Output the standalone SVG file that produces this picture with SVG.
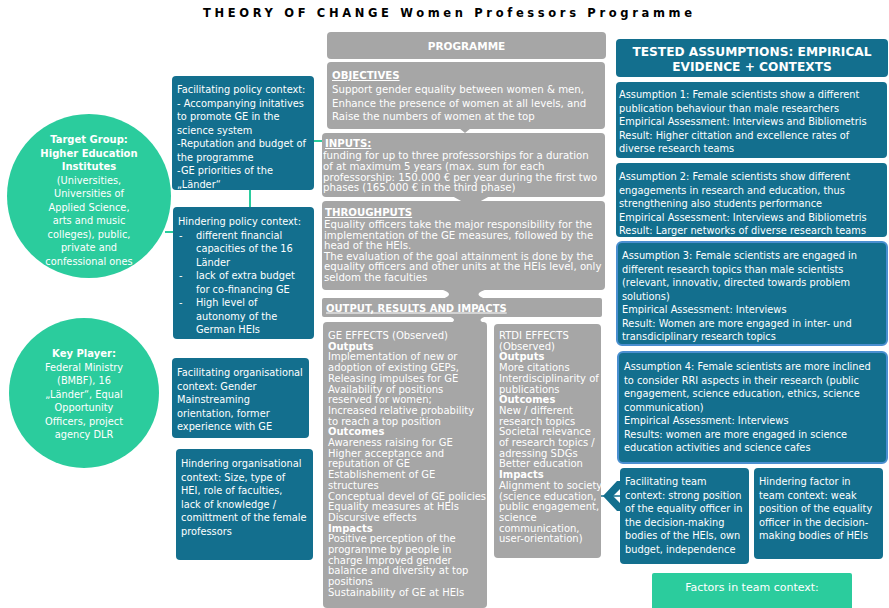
<svg xmlns="http://www.w3.org/2000/svg" width="889" height="608" viewBox="0 0 889 608">
<defs>
<style>
text{font-family:"DejaVu Sans",Verdana,sans-serif;fill:#fff;font-size:9.8px}
.m{font-size:10.2px}
.m2{font-size:10px}
.b{font-weight:bold}
.u{text-decoration:underline}
.teal{fill:#136f8e}
.green{fill:#2bcc9d}
.gray{fill:#a6a6a6}
.outl{stroke:#4a8fd0;stroke-width:2}
.con{stroke:#2bcc9d;stroke-width:2;fill:none}
</style>
<marker id="ah" viewBox="0 0 10 10" refX="9" refY="5" markerWidth="4" markerHeight="4" orient="auto">
<path d="M0,0L10,5L0,10z" fill="#2bcc9d"/>
</marker>
</defs>
<rect width="889" height="608" fill="#fff"/>
<text x="203" y="17" class="b" style="font-size:11.5px;letter-spacing:3.65px;fill:#000">THEORY OF CHANGE Women Professors Programme</text>

<g id="connectors">
<line class="con" x1="165" y1="232" x2="174" y2="232"/>
<line class="con" x1="250" y1="190" x2="250" y2="208"/>
<line class="con" x1="313" y1="141" x2="333" y2="141" marker-end="url(#ah)"/>
<line x1="600" y1="496" x2="620" y2="496" stroke="#136f8e" stroke-width="1.5"/>
<polygon class="teal" points="603,496 617,481 622,481 622,487 613,496 622,505 622,511 617,511"/>
</g>

<g id="target-group">
<circle cx="89" cy="196" r="82" class="green"/>
<text text-anchor="middle" class="b" style="font-size:10px"><tspan x="89" y="143">Target Group:</tspan><tspan x="89" y="156.5">Higher Education</tspan><tspan x="89" y="170">Institutes</tspan></text>
<text text-anchor="middle"><tspan x="89" y="183.5">(Universities,</tspan><tspan x="89" y="197">Universities of</tspan><tspan x="89" y="210.5">Applied Science,</tspan><tspan x="89" y="224">arts and music</tspan><tspan x="89" y="237.5">colleges), public,</tspan><tspan x="89" y="251">private and</tspan><tspan x="89" y="264.5">confessional ones</tspan></text>
</g>

<g id="key-player">
<circle cx="84" cy="393" r="75" class="green"/>
<text text-anchor="middle"><tspan x="84" y="357" class="b" style="font-size:10px">Key Player:</tspan><tspan x="84" y="370.5">Federal Ministry</tspan><tspan x="84" y="384">(BMBF), 16</tspan><tspan x="84" y="397.5">„Länder“,  Equal</tspan><tspan x="84" y="411">Opportunity</tspan><tspan x="84" y="424.5">Officers, project</tspan><tspan x="84" y="438">agency DLR</tspan></text>
</g>

<g id="fac-policy">
<rect x="172" y="76" width="142" height="114" rx="4" class="teal"/>
<text><tspan x="177" y="93">Facilitating policy context:</tspan><tspan x="177" y="106.5">- Accompanying initatives</tspan><tspan x="177" y="120">to promote GE in the</tspan><tspan x="177" y="133.5">science system</tspan><tspan x="177" y="147">-Reputation and budget of</tspan><tspan x="177" y="160.5">the programme</tspan><tspan x="177" y="174">-GE priorities of the</tspan><tspan x="177" y="187.5">„Länder“</tspan></text>
</g>

<g id="hin-policy">
<rect x="173" y="207" width="141" height="132" rx="4" class="teal"/>
<text><tspan x="178" y="225">Hindering policy context:</tspan><tspan x="179" y="238.5">-</tspan><tspan x="196" y="238.5">different financial</tspan><tspan x="196" y="252">capacities of the 16</tspan><tspan x="196" y="265.5">Länder</tspan><tspan x="179" y="279">-</tspan><tspan x="196" y="279">lack of extra budget</tspan><tspan x="196" y="292.5">for co-financing GE</tspan><tspan x="179" y="306">-</tspan><tspan x="196" y="306">High level of</tspan><tspan x="196" y="319.5">autonomy of the</tspan><tspan x="196" y="333">German HEIs</tspan></text>
</g>

<g id="fac-org">
<rect x="172" y="358" width="137" height="80" rx="4" class="teal"/>
<text><tspan x="177" y="376">Facilitating organisational</tspan><tspan x="177" y="389.5">context: Gender</tspan><tspan x="177" y="403">Mainstreaming</tspan><tspan x="177" y="416.5">orientation, former</tspan><tspan x="177" y="430">experience with GE</tspan></text>
</g>

<g id="hin-org">
<rect x="176" y="449" width="137" height="111" rx="4" class="teal"/>
<text><tspan x="181" y="467">Hindering organisational</tspan><tspan x="181" y="480.5">context: Size, type of</tspan><tspan x="181" y="494">HEI, role of faculties,</tspan><tspan x="181" y="507.5">lack of knowledge /</tspan><tspan x="181" y="521">comittment of the female</tspan><tspan x="181" y="534.5">professors</tspan></text>
</g>

<g id="programme">
<rect x="327" y="32" width="279" height="27" rx="4" class="gray"/>
<text x="466.5" y="50" text-anchor="middle" class="b" style="font-size:10.5px">PROGRAMME</text>
</g>

<g id="objectives">
<rect x="327" y="62" width="278" height="67" rx="4" class="gray"/>
<polygon class="gray" points="459,128 471,128 465,133"/>
<text class="m"><tspan x="332" y="79" class="b u">OBJECTIVES</tspan><tspan x="332" y="93">Support gender equality between women &amp; men,</tspan><tspan x="332" y="107">Enhance the presence of women at all levels, and</tspan><tspan x="332" y="120">Raise the numbers of women at the top</tspan></text>
</g>

<g id="inputs">
<rect x="322" y="133" width="283" height="64" rx="4" class="gray"/>
<polygon class="gray" points="452,196 490,196 479,202 463,202"/>
<text class="m"><tspan x="325" y="147" class="b u">INPUTS:</tspan><tspan x="323" y="159">funding for up to three professorships for a duration</tspan><tspan x="323" y="170">of at maximum 5 years (max. sum for each</tspan><tspan x="323" y="181">professorship:  150.000 € per year during the first two</tspan><tspan x="323" y="191">phases (165.000 € in the third phase)</tspan></text>
</g>

<g id="throughputs">
<rect x="322" y="201" width="283" height="89" rx="4" class="gray"/>
<path class="gray" d="M440,289 L488,289 Q470,294 486,299 L442,299 Q457,294 440,289 Z"/>
<text class="m"><tspan x="325" y="216" class="b u">THROUGHPUTS</tspan><tspan x="324" y="228">Equality officers take the major responsibility for the</tspan><tspan x="324" y="238.5">implementation of the GE measures, followed by the</tspan><tspan x="324" y="249">head of the HEIs.</tspan><tspan x="324" y="259.5">The evaluation of the goal attainment is done by the</tspan><tspan x="324" y="270">equality officers and other units at the HEIs level, only</tspan><tspan x="324" y="280.5">seldom the faculties</tspan></text>
</g>

<g id="outputs-header">
<rect x="322" y="298" width="280" height="19" rx="2" class="gray"/>
<text x="326" y="311.5" class="b u" style="font-size:10px">OUTPUT, RESULTS AND IMPACTS</text>
</g>

<g id="ge-effects">
<path class="gray" d="M448,316 L487,316 Q474,320 487,324 L448,324 Q460,320 448,316 Z"/>
<rect x="323" y="322" width="164" height="286" rx="4" class="gray"/>
<text class="m2"><tspan x="328" y="339">GE EFFECTS (Observed)</tspan><tspan x="328" y="349.7" class="b">Outputs</tspan><tspan x="328" y="360.4">Implementation of new or</tspan><tspan x="328" y="371.1">adoption of existing GEPs,</tspan><tspan x="328" y="381.8">Releasing impulses for GE</tspan><tspan x="328" y="392.5">Availability of positions</tspan><tspan x="328" y="403.2">reserved for women;</tspan><tspan x="328" y="413.9">Increased relative probability</tspan><tspan x="328" y="424.6">to reach a top position</tspan><tspan x="328" y="435.3" class="b">Outcomes</tspan><tspan x="328" y="446">Awareness raising for GE</tspan><tspan x="328" y="456.7">Higher acceptance and</tspan><tspan x="328" y="467.4">reputation of GE</tspan><tspan x="328" y="478.1">Establishement of GE</tspan><tspan x="328" y="488.8">structures</tspan><tspan x="328" y="499.5">Conceptual devel of GE policies</tspan><tspan x="328" y="510.2">Equality measures at HEIs</tspan><tspan x="328" y="520.9">Discursive effects</tspan><tspan x="328" y="531.6" class="b">Impacts</tspan><tspan x="328" y="542.3">Positive perception of the</tspan><tspan x="328" y="553">programme by people in</tspan><tspan x="328" y="563.7">charge Improved gender</tspan><tspan x="328" y="574.4">balance and diversity at top</tspan><tspan x="328" y="585.1">positions</tspan><tspan x="328" y="595.8">Sustainability of GE at HEIs</tspan></text>
</g>

<g id="rtdi-effects">
<rect x="494" y="324" width="107" height="234" rx="4" class="gray"/>
<text class="m2"><tspan x="499" y="339">RTDI EFFECTS</tspan><tspan x="499" y="349.7">(Observed)</tspan><tspan x="499" y="360.4" class="b">Outputs</tspan><tspan x="499" y="371.1">More citations</tspan><tspan x="499" y="381.8">Interdisciplinarity of</tspan><tspan x="499" y="392.5">publications</tspan><tspan x="499" y="403.2" class="b">Outcomes</tspan><tspan x="499" y="413.9">New / different</tspan><tspan x="499" y="424.6">research topics</tspan><tspan x="499" y="435.3">Societal relevance</tspan><tspan x="499" y="446">of research topics /</tspan><tspan x="499" y="456.7">adressing SDGs</tspan><tspan x="499" y="467.4">Better education</tspan><tspan x="499" y="478.1" class="b">Impacts</tspan><tspan x="499" y="488.8">Alignment to society</tspan><tspan x="499" y="499.5">(science education,</tspan><tspan x="499" y="510.2">public engagement,</tspan><tspan x="499" y="520.9">science</tspan><tspan x="499" y="531.6">communication,</tspan><tspan x="499" y="542.3">user-orientation)</tspan></text>
</g>

<g id="tested-header">
<rect x="616" y="39" width="272" height="38" rx="4" class="teal"/>
<text text-anchor="middle" class="b" style="font-size:12.2px"><tspan x="752" y="56">TESTED ASSUMPTIONS: EMPIRICAL</tspan><tspan x="752" y="71">EVIDENCE + CONTEXTS</tspan></text>
</g>

<g id="assumption1">
<rect x="616" y="82" width="271" height="76" rx="4" class="teal"/>
<text><tspan x="619" y="98">Assumption 1: Female scientists show a different</tspan><tspan x="619" y="111.5">publication behaviour than male researchers</tspan><tspan x="619" y="125">Empirical Assessment: Interviews and Bibliometris</tspan><tspan x="619" y="138.5">Result: Higher cittation and excellence rates of</tspan><tspan x="619" y="152">diverse research teams</tspan></text>
</g>

<g id="assumption2">
<rect x="616" y="163" width="271" height="74" rx="4" class="teal"/>
<text><tspan x="619" y="180">Assumption 2: Female scientists show different</tspan><tspan x="619" y="193.5">engagements in research and education, thus</tspan><tspan x="619" y="207">strengthening also students performance</tspan><tspan x="619" y="220.5">Empirical Assessment: Interviews and Bibliometris</tspan><tspan x="619" y="234">Result: Larger networks of diverse research teams</tspan></text>
</g>

<g id="assumption3">
<rect x="617" y="242" width="270" height="103" rx="5" class="teal outl"/>
<text><tspan x="622" y="259">Assumption 3: Female scientists are engaged in</tspan><tspan x="622" y="272.5">different research topics than male scientists</tspan><tspan x="622" y="286">(relevant, innovativ, directed towards problem</tspan><tspan x="622" y="299.5">solutions)</tspan><tspan x="622" y="313">Empirical Assessment: Interviews</tspan><tspan x="622" y="326.5">Result: Women are more engaged in inter- und</tspan><tspan x="622" y="340">transdiciplinary research topics</tspan></text>
</g>

<g id="assumption4">
<rect x="618" y="352" width="269" height="111" rx="5" class="teal outl"/>
<text><tspan x="624" y="370">Assumption 4: Female scientists are more inclined</tspan><tspan x="624" y="383.5">to consider RRI aspects in their research (public</tspan><tspan x="624" y="397">engagement, science education, ethics, science</tspan><tspan x="624" y="410.5">communication)</tspan><tspan x="624" y="424">Empirical Assessment: Interviews</tspan><tspan x="624" y="437.5">Results: women are more engaged in science</tspan><tspan x="624" y="451">education activities and science cafes</tspan></text>
</g>

<g id="fac-team">
<rect x="620" y="468" width="129" height="96" rx="4" class="teal"/>
<text><tspan x="625" y="485">Facilitating team</tspan><tspan x="625" y="498.5">context: strong position</tspan><tspan x="625" y="512">of the equality officer in</tspan><tspan x="625" y="525.5">the decision-making</tspan><tspan x="625" y="539">bodies of the HEIs, own</tspan><tspan x="625" y="552.5">budget, independence</tspan></text>
</g>

<g id="hin-team">
<rect x="754" y="468" width="129" height="91" rx="4" class="teal"/>
<text><tspan x="759" y="485">Hindering factor in</tspan><tspan x="759" y="498.5">team context: weak</tspan><tspan x="759" y="512">position of the equality</tspan><tspan x="759" y="525.5">officer in the decision-</tspan><tspan x="759" y="539">making bodies of HEIs</tspan></text>
</g>

<g id="team-factors">
<rect x="652" y="573" width="200" height="40" rx="2" class="green"/>
<text x="752" y="591" text-anchor="middle" style="font-size:11px">Factors in team context:</text>
</g>
</svg>
